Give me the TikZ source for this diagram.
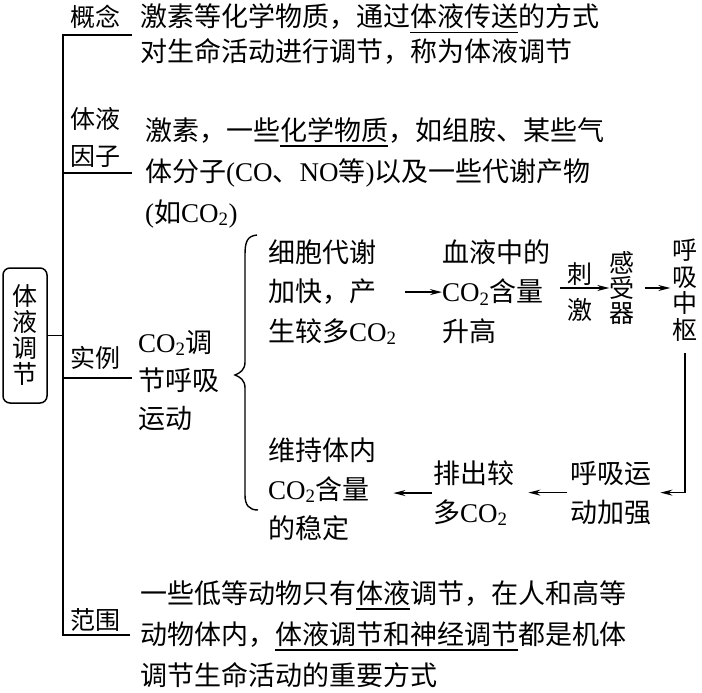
\documentclass[tikz,border=0pt]{standalone}
\usepackage{fontspec}
\setmainfont{Liberation Serif}
\newfontfamily\cjk{Noto Sans CJK SC}
\usetikzlibrary{arrows.meta,positioning}
\newcommand\lat[1]{{\rmfamily #1}}
\newcommand\cotwo{\lat{CO\textsubscript{2}}}
\newcommand\uline[1]{\setbox0\hbox{#1}\rlap{\rule[-6.5pt]{\wd0}{1.4pt}}\box0}

\begin{document}
\begin{tikzpicture}[x=1pt,y=-1pt,
  body/.style={anchor=base west,align=left,inner sep=0pt,
    font=\cjk\fontsize{27}{#1}\selectfont},
  body/.default=40,
  branchlabel/.style={anchor=center,align=center,inner sep=0pt,
    font=\cjk\fontsize{25}{37}\selectfont},
  vertical/.style={anchor=center,align=center,inner sep=0pt,
    font=\cjk\fontsize{25}{#1}\selectfont},
  vertical/.default=25,
  link/.style={line width=1.5pt},
  flow/.style={-{Stealth[length=12pt,width=6pt]},line width=1.4pt}]
\useasboundingbox (0,0) rectangle (702,693);
% root and tree
\node[draw,line width=1.5pt,rounded corners=7pt,minimum width=44pt,minimum height=135pt,
  vertical=26] (root) at (25,335.5) {体\\液\\调\\节};
\coordinate (top) at (63,35);
\coordinate (bottom) at (63,635);
\coordinate (b1) at (132,35);
\coordinate (b2) at (132,173);
\coordinate (b3) at (132,378);
\coordinate (b4) at (130,635);
\draw[link] (b1) -- (top) -- (bottom) -- (b4);
\draw[link] (top |- b2) -- (b2);
\draw[link] (top |- b3) -- (b3);
\draw[link] (root.east) -- (root.east -| top);
\node[branchlabel] (concept) at (95,17) {概念};
\node[branchlabel] (factor) at (95,137) {体液\\因子};
\node[branchlabel] (example) at (95,358) {实例};
\node[branchlabel] (scope) at (95,620) {范围};
% branch texts (base = last line)
\node[body=35] (concepttext) at (140,62)
  {激素等化学物质，通过\uline{体液传送}的方式\\对生命活动进行调节，称为体液调节};
\node[body=41] (factortext) at (145,222)
  {激素，一些\uline{化学物质}，如组胺、某些气\\体分子\lat{(CO}、\lat{NO}等\lat{)}以及一些代谢产物\\\lat{(}如\cotwo\lat{)}};
\node[body=38] (co2) at (138,428) {\cotwo 调\\节呼吸\\运动};
\node[body=41] (scopetext) at (140,685)
  {一些低等动物只有\uline{体液}调节，在人和高等\\动物体内，\uline{体液调节和神经调节}都是机体\\调节生命活动的重要方式};
% brace
\draw[line width=1.4pt] (257,235) .. controls (247,236) and (245,242) .. (245,255)
  -- (245,362) .. controls (245,370) and (240,373) .. (235,375)
  .. controls (240,377) and (245,380) .. (245,388)
  -- (245,495) .. controls (245,505) and (249,510) .. (258,510);
% regulation loop
\node[body=39.5] (cell) at (268,341) {细胞代谢\\加快，产\\生较多\cotwo};
\node[body=39.5] (blood) at (442,341) {血液中的\\\cotwo 含量\\升高};
\node[vertical] (sensor) at (622,288) {感\\受\\器};
\node[vertical=26.5] (centre) at (685,290) {呼\\吸\\中\\枢};
\node[body=39] (strong) at (570,522) {呼吸运\\动加强};
\node[body=39] (expel) at (433,522) {排出较\\多\cotwo};
\node[body=39] (steady) at (268,538) {维持体内\\\cotwo 含量\\的稳定};
\draw[flow,shorten <=8pt] (cell.east) -- (cell.east -| blood.west);
\draw[flow,shorten <=10pt] (blood.east |- sensor.west) --
  node[above=2pt,body,anchor=south,font=\cjk\fontsize{25}{25}\selectfont] (stimA) {刺}
  node[below=10pt,body,anchor=north,font=\cjk\fontsize{25}{25}\selectfont] (stimB) {激}
  (sensor.west);
\draw[flow,shorten <=10pt,shorten >=2pt] (sensor.east) -- (sensor.east -| centre.west);
\draw[flow,shorten >=9pt] ([yshift=-12pt]centre.south) |- (strong.east);
\draw[flow,shorten <=3pt,shorten >=14pt] (strong.west) -- (strong.west -| expel.east);
\draw[flow,shorten <=1pt,shorten >=17pt] (expel.west) -- (expel.west -| steady.east);
\end{tikzpicture}
\end{document}
